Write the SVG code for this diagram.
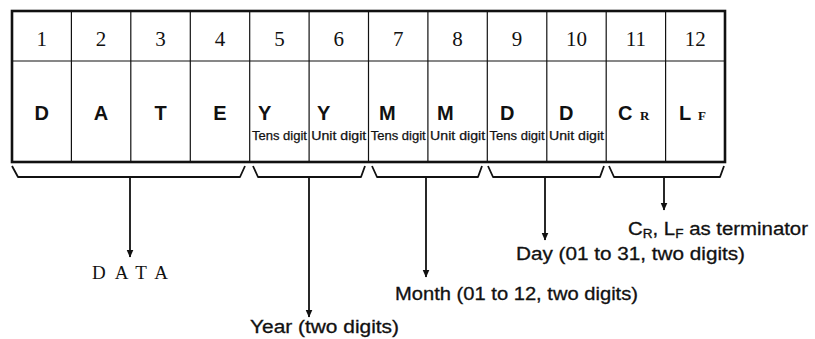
<svg xmlns="http://www.w3.org/2000/svg" width="815" height="339" viewBox="0 0 815 339">
<style>
.num{font-family:"Liberation Serif",serif;font-size:21px;text-anchor:middle;fill:#111}
.big{font-family:"Liberation Sans",sans-serif;font-size:20px;font-weight:bold;fill:#111}
.sub{font-family:"Liberation Sans",sans-serif;font-size:12.5px;fill:#111;text-anchor:middle;stroke:#111;stroke-width:0.25}
.ssub{font-family:"Liberation Serif",serif;font-size:13px;font-weight:bold;fill:#111}
.lbl{font-family:"Liberation Sans",sans-serif;font-size:18px;fill:#111;stroke:#111;stroke-width:0.3}
.grid{stroke:#111;stroke-width:1.2;fill:none}
.outer{stroke:#111;stroke-width:2.6;fill:none}
.brace{stroke:#111;stroke-width:1.8;fill:none;stroke-linejoin:round}
.stem{stroke:#111;stroke-width:1.8;fill:none}
</style>
<defs>
<marker id="ah" markerWidth="8" markerHeight="14" refX="7.5" refY="3.5" orient="auto" markerUnits="userSpaceOnUse" viewBox="0 0 8 7">
<path d="M0,0 L8,3.5 L0,7 Z" fill="#111"/>
</marker>
</defs>
<rect width="815" height="339" fill="#fff"/>
<g id="table">
<line class="grid" x1="12" y1="61" x2="725" y2="61"/>
<line class="grid" x1="71.4" y1="11" x2="71.4" y2="162"/>
<line class="grid" x1="130.8" y1="11" x2="130.8" y2="162"/>
<line class="grid" x1="190.3" y1="11" x2="190.3" y2="162"/>
<line class="grid" x1="249.7" y1="11" x2="249.7" y2="162"/>
<line class="grid" x1="309.1" y1="11" x2="309.1" y2="162"/>
<line class="grid" x1="368.5" y1="11" x2="368.5" y2="162"/>
<line class="grid" x1="427.9" y1="11" x2="427.9" y2="162"/>
<line class="grid" x1="487.3" y1="11" x2="487.3" y2="162"/>
<line class="grid" x1="546.8" y1="11" x2="546.8" y2="162"/>
<line class="grid" x1="606.2" y1="11" x2="606.2" y2="162"/>
<line class="grid" x1="665.6" y1="11" x2="665.6" y2="162"/>
<rect class="outer" x="12" y="11" width="713" height="151"/>
</g>
<g id="header">
<text class="num" x="41.7" y="46">1</text>
<text class="num" x="101.1" y="46">2</text>
<text class="num" x="160.6" y="46">3</text>
<text class="num" x="220" y="46">4</text>
<text class="num" x="279.4" y="46">5</text>
<text class="num" x="338.8" y="46">6</text>
<text class="num" x="398.2" y="46">7</text>
<text class="num" x="457.6" y="46">8</text>
<text class="num" x="517.1" y="46">9</text>
<text class="num" x="576.5" y="46">10</text>
<text class="num" x="635.9" y="46">11</text>
<text class="num" x="695.3" y="46">12</text>
</g>
<g id="cells">
<text class="big" x="41.7" y="120" text-anchor="middle">D</text>
<text class="big" x="101.1" y="120" text-anchor="middle">A</text>
<text class="big" x="160.6" y="120" text-anchor="middle">T</text>
<text class="big" x="220" y="120" text-anchor="middle">E</text>
<text class="big" x="258" y="120">Y</text>
<text class="big" x="317" y="120">Y</text>
<text class="big" x="379" y="120">M</text>
<text class="big" x="437" y="120">M</text>
<text class="big" x="500" y="120">D</text>
<text class="big" x="559" y="120">D</text>
<text class="big" x="618" y="120">C</text><text class="ssub" x="640" y="120">R</text>
<text class="big" x="679" y="120">L</text><text class="ssub" x="698" y="120">F</text>
<text class="sub" x="279.4" y="140" textLength="55" lengthAdjust="spacingAndGlyphs">Tens digit</text>
<text class="sub" x="338.8" y="140" textLength="55" lengthAdjust="spacingAndGlyphs">Unit digit</text>
<text class="sub" x="398.2" y="140" textLength="55" lengthAdjust="spacingAndGlyphs">Tens digit</text>
<text class="sub" x="457.6" y="140" textLength="55" lengthAdjust="spacingAndGlyphs">Unit digit</text>
<text class="sub" x="517.1" y="140" textLength="55" lengthAdjust="spacingAndGlyphs">Tens digit</text>
<text class="sub" x="576.5" y="140" textLength="55" lengthAdjust="spacingAndGlyphs">Unit digit</text>
</g>
<g id="connectors">
<path class="brace" d="M12,166 L18,177 L240,177 L245,166"/>
<path class="brace" d="M253,166 L258,177 L361,177 L365,166"/>
<path class="brace" d="M372,166 L377,177 L478,177 L482,166"/>
<path class="brace" d="M488,166 L493,177 L600,177 L604,166"/>
<path class="brace" d="M609,166 L614,177 L720,177 L724,166"/>
<line class="stem" x1="130" y1="177" x2="130" y2="257" marker-end="url(#ah)"/>
<line class="stem" x1="309" y1="177" x2="309" y2="317" marker-end="url(#ah)"/>
<line class="stem" x1="426" y1="177" x2="426" y2="277" marker-end="url(#ah)"/>
<line class="stem" x1="545" y1="177" x2="545" y2="240" marker-end="url(#ah)"/>
<line class="stem" x1="664" y1="177" x2="664" y2="210" marker-end="url(#ah)"/>
</g>
<g id="labels">
<text x="92" y="279" font-family="Liberation Serif, serif" font-size="19" fill="#111" textLength="76" lengthAdjust="spacing">DATA</text>
<text class="lbl" x="250" y="333" textLength="149" lengthAdjust="spacingAndGlyphs">Year (two digits)</text>
<text class="lbl" x="395" y="300" textLength="243" lengthAdjust="spacingAndGlyphs">Month (01 to 12, two digits)</text>
<text class="lbl" x="516" y="260" textLength="229" lengthAdjust="spacingAndGlyphs">Day (01 to 31, two digits)</text>
<text class="lbl" x="628" y="235" textLength="180" lengthAdjust="spacingAndGlyphs">C<tspan font-size="12" dy="3">R</tspan><tspan dy="-3">, L</tspan><tspan font-size="12" dy="3">F</tspan><tspan dy="-3"> as terminator</tspan></text>
</g>
</svg>
